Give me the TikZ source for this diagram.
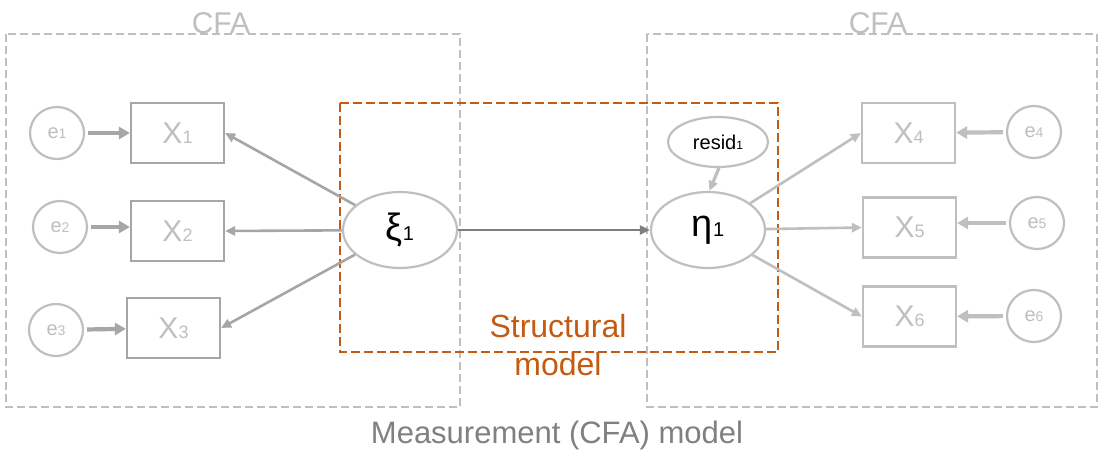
\documentclass[tikz,border=0pt]{standalone}
\usepackage{fontspec}
\setmainfont{Liberation Sans}
\usetikzlibrary{arrows.meta,shapes.geometric}
\definecolor{lg}{HTML}{BFBFBF}
\definecolor{mg}{HTML}{A6A6A6}
\definecolor{dg}{HTML}{7F7F7F}
\definecolor{org}{HTML}{C55A11}
\definecolor{meas}{HTML}{808080}
\newcommand{\fsz}[1]{\fontsize{#1}{#1}\selectfont}
\newcommand{\xlab}[1]{\raisebox{-3pt}{\fsz{30}X\fsz{18}#1}}
\newcommand{\elab}[1]{\fsz{20}e\fsz{14}#1}
\begin{document}
\begin{tikzpicture}[x=1pt,y=-1pt,
  obs/.style={draw=#1,line width=2.2pt,rectangle,minimum width=93pt,minimum height=60pt,inner sep=0pt,fill=white,text=lg},
  err/.style={draw=lg,line width=2.2pt,ellipse,minimum width=54pt,minimum height=52pt,inner sep=0pt,fill=white,text=lg},
  lat/.style={draw=lg,line width=2.2pt,ellipse,minimum width=114pt,minimum height=76pt,inner sep=0pt,fill=white,text=black},
  cfabox/.style={draw=lg,line width=2.6pt,dash pattern=on 8pt off 4pt},
  strbox/.style={draw=org,line width=2.8pt,dash pattern=on 9pt off 4pt},
  thickarr/.style={draw=#1,line width=4.2pt,-{Triangle[length=11pt,width=12pt]},shorten <=3pt},
  thinarr/.style={draw=#1,line width=2.6pt,-{Triangle[length=10pt,width=9pt]}},
  lbl/.style={inner sep=0pt,anchor=base}
]
\useasboundingbox (0,0) rectangle (1100,458);
\fill[white] (0,0) rectangle (1100,458);

% CFA boxes
\draw[cfabox] (6,34) rectangle (460,407);
\draw[cfabox] (647,34) rectangle (1097,407);
\node[lbl,text=lg] (cfaL) at (221,33) {\fsz{30}CFA};
\node[lbl,text=lg] (cfaR) at (878,33) {\fsz{30}CFA};

% structural box
\draw[strbox] (340,103) rectangle (778,352);

% observed
\node[obs=mg] (x1) at (177.5,133) {\xlab{1}};
\node[obs=mg] (x2) at (177.5,231) {\xlab{2}};
\node[obs=mg] (x3) at (173.5,328) {\xlab{3}};
\node[obs=lg] (x4) at (908.5,133) {\xlab{4}};
\node[obs=lg] (x5) at (909.5,227.5) {\xlab{5}};
\node[obs=lg] (x6) at (909.5,316.5) {\xlab{6}};

% errors
\node[err] (e1) at (57,133) {\elab{1}};
\node[err] (e2) at (60,227) {\elab{2}};
\node[err] (e3) at (56,330) {\elab{3}};
\node[err] (e4) at (1034,132) {\elab{4}};
\node[err] (e5) at (1037,223) {\elab{5}};
\node[err] (e6) at (1034,316) {\elab{6}};

% latent
\node[lat] (xi) at (400,230) {\raisebox{-3pt}{\fsz{38}ξ\fsz{20}1}};
\node[lat] (eta) at (708,230) {\raisebox{-3pt}{\fsz{38}η\fsz{20}1}};
\node[lat,minimum width=100pt,minimum height=50pt] (resid) at (718,142) {\fsz{20}resid\fsz{12}1};

% connectors
\draw[thickarr=mg] (e1) -- (x1);
\draw[thickarr=mg] (e2.east) -- (x2.west |- e2.east);
\draw[thickarr=mg] (e3) -- (x3);
\draw[thickarr=lg] (e4) -- (x4);
\draw[thickarr=lg] (e5) -- (x5.east |- e5);
\draw[thickarr=lg] (e6) -- (x6);

\draw[thinarr=mg] (xi) -- (x1.east);
\draw[thinarr=mg] (xi) -- (x2.east);
\draw[thinarr=mg] (xi) -- (x3.east);
\draw[thinarr=dg] (xi) -- (eta);
\draw[thinarr=lg] (eta) -- (x4.west);
\draw[thinarr=lg] (eta) -- (x5.west);
\draw[thinarr=lg] (eta) -- (x6.west);
\draw[thinarr=lg,line width=3.2pt] (resid.-88) -- (eta.88);

% texts
\node[lbl,text=org] (str1) at (558,337) {\fsz{32}Structural};
\node[lbl,text=org] (str2) at (558,375) {\fsz{32}model};
\node[lbl,text=meas] (meas) at (557,443) {\fsz{31}Measurement (CFA) model};
\end{tikzpicture}
\end{document}
